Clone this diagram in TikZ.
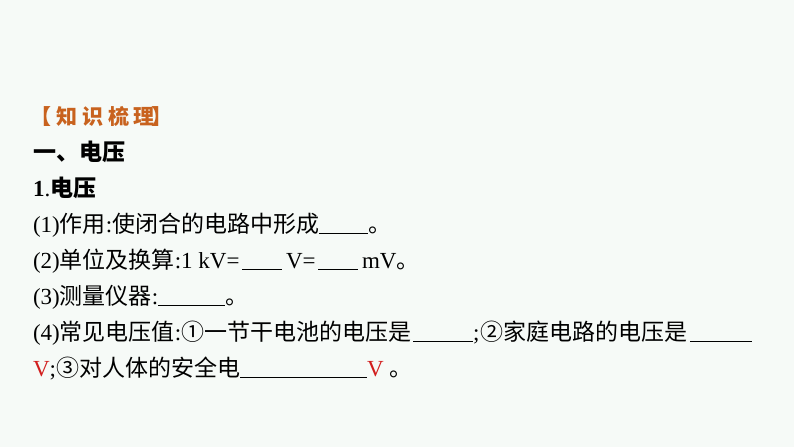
\documentclass[tikz,border=0pt]{standalone}
\usepackage{fontspec}
\setmainfont{Liberation Serif}
\newfontfamily\cjk{Noto Sans CJK SC}
\newcommand\zh[1]{{\cjk #1}}
\newcommand\blank[1]{\rule[-1pt]{#1pt}{0.9pt}}
\newcommand\thickblank[1]{\rule[-1.6pt]{#1pt}{1.7pt}}
\definecolor{bgmint}{HTML}{F6FAF7}
\definecolor{headorange}{HTML}{C8621E}
\definecolor{vred}{HTML}{D21E1E}
\begin{document}
\begin{tikzpicture}[x=1pt,y=-1pt,
  txt/.style={anchor=base west,inner sep=0pt,outer sep=0pt,font=\fontsize{23}{27}\selectfont},
  headch/.style={anchor=base,inner sep=0pt,outer sep=0pt,text=headorange,font=\fontsize{21}{25}\selectfont\cjk\bfseries}]
\fill[bgmint] (0,0) rectangle (794,447);
\useasboundingbox (0,0) rectangle (794,447);
% heading 【知识梳理】
\node[headch,anchor=base east] (hb1) at (51,124) {【};
\node[headch] (hk1) at (66.5,124) {知};
\node[headch] (hk2) at (92.5,124) {识};
\node[headch] (hk3) at (119,124) {梳};
\node[headch] (hk4) at (144,124) {理};
\node[headch,anchor=base west] (hb2) at (151,124) {】};
% section titles
\node[txt] (t1) at (33,160.7) {\zh{\bfseries 一、电压}};
\node[txt] (t2) at (33,196.7) {\textbf{1}.\zh{\bfseries 电压}};
% items
\node[txt] (l1) at (33,232.7) {(1)\zh{作用}:\zh{使闭合的电路中形成}\blank{49}\zh{。}};
\node[txt] (l2) at (33,268.7) {(2)\zh{单位及换算}:1 kV=\hspace{2.5pt}\blank{40}\hspace{4pt}V=\hspace{2.4pt}\blank{40}\hspace{4pt}mV\zh{。}};
\node[txt] (l3) at (33,304.7) {(3)\zh{测量仪器}:\blank{67}\zh{。}};
\node[txt] (l4) at (33,340.7) {(4)\zh{常见电压值}:\zh{①一节干电池的电压是}\hspace{1.8pt}\blank{60};\hspace{1pt}\zh{②家庭电路的电压是}\hspace{2.6pt}\blank{62}};
\node[txt] (l5) at (33,376.7) {\textcolor{vred}{V};\zh{③对人体的安全电}\thickblank{127}\textcolor{vred}{V} \zh{。}};
\end{tikzpicture}
\end{document}
